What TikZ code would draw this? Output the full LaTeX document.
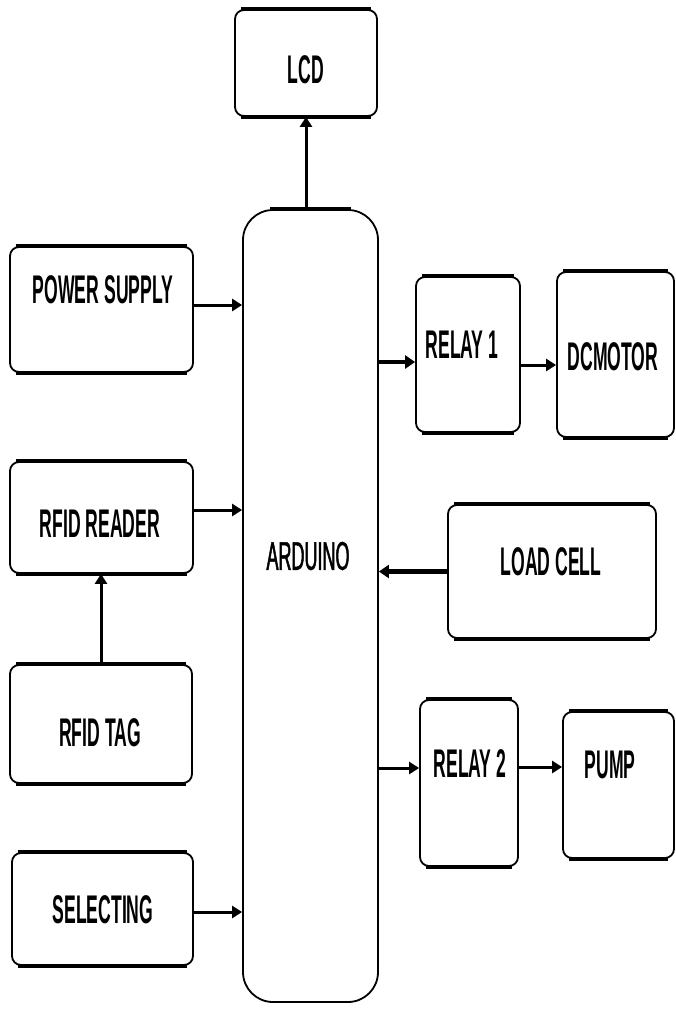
\documentclass[tikz,border=0pt]{standalone}
\usepackage{fontspec}
\newfontfamily\lblfont[FakeStretch=0.44]{Liberation Sans}
\newfontfamily\ardfont[FakeStretch=0.45,FakeBold=1.2]{Liberation Sans}
\usetikzlibrary{arrows.meta}
\begin{document}
\begin{tikzpicture}[x=1pt,y=-1pt,
  blk/.style={draw, line width=1.8pt, rounded corners=9pt, inner sep=0pt},
  txt/.style={font=\lblfont\bfseries\fontsize{40}{40}\selectfont, inner sep=0pt},
  arr/.style={line width=3pt, -{Triangle[length=10pt,width=12pt]}},
  thickarr/.style={line width=4.5pt, -{Triangle[length=10pt,width=13pt]}},
  hedge/.style={line width=4.5pt, line cap=butt}]
\useasboundingbox (0,0) rectangle (676,1014);
\node[blk, minimum width=142pt, minimum height=106pt] (lcd) at (306,63) {};
\node[blk, rounded corners=30pt, minimum width=135pt, minimum height=792pt] (ard) at (310.5,606) {};
\node[blk, minimum width=183pt, minimum height=125pt] (ps) at (101.5,309.5) {};
\node[blk, minimum width=183pt, minimum height=111pt] (rr) at (101.5,517.5) {};
\node[blk, minimum width=182pt, minimum height=118pt] (rt) at (101,724) {};
\node[blk, minimum width=181pt, minimum height=112pt] (sel) at (102.5,909) {};
\node[blk, minimum width=104pt, minimum height=155pt] (r1) at (468,354.5) {};
\node[blk, minimum width=117pt, minimum height=165pt] (dc) at (615.5,354.5) {};
\node[blk, minimum width=208pt, minimum height=133pt] (lc) at (552,571.5) {};
\node[blk, minimum width=98pt, minimum height=166pt] (r2) at (469,783) {};
\node[blk, minimum width=111pt, minimum height=146pt] (pump) at (618.5,785) {};
\foreach \n in {lcd,ps,rr,rt,sel,r1,dc,lc,r2,pump}{
  \draw[hedge] ([xshift=7pt]\n.north west) -- ([xshift=-7pt]\n.north east);
  \draw[hedge] ([xshift=7pt]\n.south west) -- ([xshift=-7pt]\n.south east);
}
\draw[hedge] ([xshift=28pt]ard.north west) -- ([xshift=-28pt]ard.north east);
% texts
\node[txt] (tlcd) at (306,70) {LCD};
\node[txt] (tps) at (103,290) {POWER SUPPLY};
\node[txt] (trr) at (100,524) {RFID READER};
\node[txt] (trt) at (100,733) {RFID TAG};
\node[txt] (tsel) at (103,910) {SELECTING};
\node[txt, font=\ardfont\fontsize{40}{40}\selectfont] (tard) at (308,556) {ARDUINO};
\node[txt] (tr1) at (462,345) {RELAY 1};
\node[txt] (tdc) at (613,357) {DCMOTOR};
\node[txt] (tlc) at (551,562) {LOAD CELL};
\node[txt] (tr2) at (470,764) {RELAY 2};
\node[txt] (tpump) at (610,765) {PUMP};
% connectors
\draw[arr] (ard.north -| lcd.south) -- (lcd.south);
\draw[arr] ([yshift=4.5pt]ps.east) -- ([yshift=4.5pt]ps.east -| ard.west);
\draw[arr] ([yshift=7.5pt]rr.east) -- ([yshift=7.5pt]rr.east -| ard.west);
\draw[arr] (rt.north) -- (rt.north |- rr.south);
\draw[arr] ([yshift=-3pt]sel.east) -- ([yshift=-3pt]sel.east -| ard.west);
\draw[thickarr] ([yshift=-7.5pt]r1.west -| ard.east) -- ([yshift=-7.5pt]r1.west);
\draw[arr] ([yshift=-10.5pt]r1.east) -- ([yshift=-10.5pt]r1.east -| dc.west);
\draw[thickarr] (lc.west) -- (lc.west -| ard.east);
\draw[arr] ([yshift=15pt]r2.west -| ard.east) -- ([yshift=15pt]r2.west);
\draw[arr] ([yshift=16pt]r2.east) -- ([yshift=16pt]r2.east -| pump.west);
\end{tikzpicture}
\end{document}
